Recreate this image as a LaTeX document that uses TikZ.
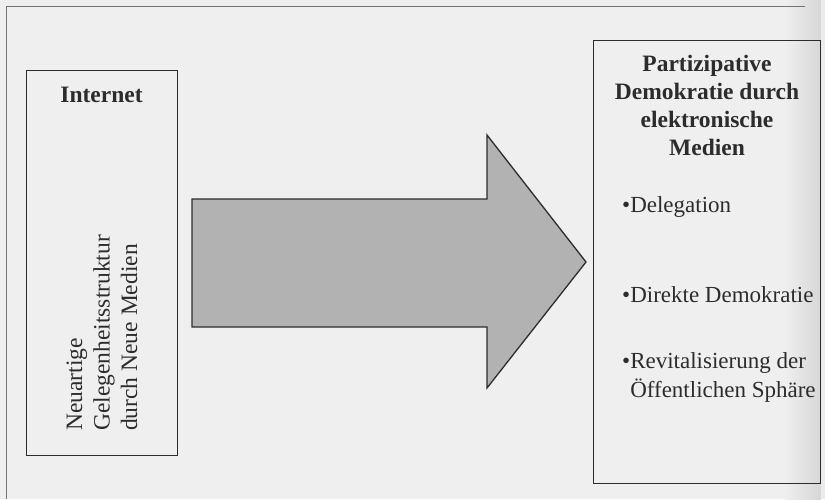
\documentclass[tikz,border=0pt]{standalone}
\usepackage{fontspec}
\setmainfont{Liberation Serif}
\definecolor{bg}{HTML}{EFEFEF}
\definecolor{ink}{HTML}{2C2C2C}
\definecolor{arrowfill}{HTML}{B2B2B2}
\begin{document}
\begin{tikzpicture}[x=1pt,y=-1pt,
  box/.style={draw=ink, line width=1.3pt, rectangle, inner sep=0pt},
  titletext/.style={font=\fontsize{23.5}{28}\selectfont\bfseries, text=ink, align=center, inner sep=0pt},
  bodytext/.style={font=\fontsize{23}{28}\selectfont, text=ink, align=left, inner sep=0pt},
  bigarrow/.style={draw=ink, line width=1.3pt, fill=arrowfill, line join=miter}]
\fill[bg] (0,0) rectangle (825,499);
\useasboundingbox (0,0) rectangle (825,499);
% scan shadow on the right edge
\shade[left color=bg, right color=black!16] (785,0) rectangle (821,499);
\fill[black!8] (821,0) rectangle (825,499);
% page frame
\draw[black!55, line width=0.8pt] (6,499) -- (6,6) -- (805,6);

% left box
\node[box, minimum width=151pt, minimum height=385pt, anchor=north west] (inet) at (26,70) {};
\node[titletext] (inettitle) at (101.5,95) {Internet};
\node[bodytext, rotate=90, anchor=west, font=\fontsize{23.5}{27.5}\selectfont] (inetbody) at (102,431)
  {Neuartige\\Gelegenheitsstruktur\\durch Neue Medien};

% right box
\node[box, minimum width=227pt, minimum height=443pt, anchor=north west] (demo) at (593,40) {};
\node[titletext] (demotitle) at (707,105) {Partizipative\\Demokratie durch\\elektronische\\Medien};
\node[bodytext, anchor=west] (deleg) at (622,207) {•Delegation};
\node[bodytext, anchor=west] (direkt) at (622,295) {•Direkte Demokratie};
\node[bodytext, anchor=west, font=\fontsize{23}{29}\selectfont] (revit) at (622,377.5)
  {•Revitalisierung der\\\hphantom{•}Öffentlichen Sphäre};

% big arrow from left box to right box
\coordinate (tail) at (192,263);
\coordinate (tip) at (586,262);
\draw[bigarrow] (tail |- 0,199) -- (487,199) -- (487,135) -- (tip) -- (487,388) -- (487,327) -- (tail |- 0,327) -- cycle;
\end{tikzpicture}
\end{document}
